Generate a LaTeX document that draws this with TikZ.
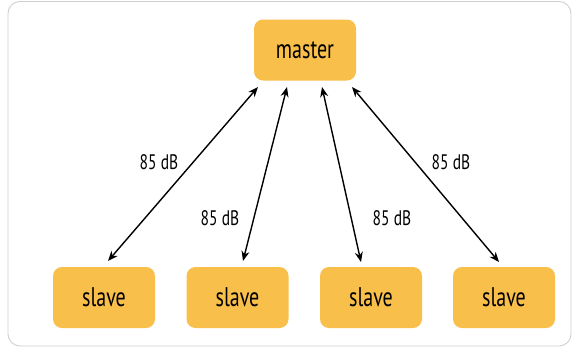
\documentclass[tikz,border=0pt]{standalone}
\usepackage{fontspec}
\setmainfont[FakeStretch=0.74]{PT Sans}
\usetikzlibrary{arrows.meta}
\definecolor{boxfill}{HTML}{F9BF4B}
\definecolor{framegray}{HTML}{CFCFCF}
\tikzset{
	unit/.style={fill=boxfill,rounded corners=9pt,minimum width=102pt,minimum height=61pt,inner sep=0pt,font=\fontsize{27}{29}\selectfont},
	link/.style={line width=1.4pt,{Stealth[length=10pt,width=8pt]}-{Stealth[length=10pt,width=8pt]}},
	level/.style={font=\fontsize{21}{23}\selectfont,inner sep=0pt}
}
\begin{document}
\begin{tikzpicture}[x=1pt,y=-1pt]
		\useasboundingbox (0,0) rectangle (572,349);
		\draw [framegray,line width=0.9pt,rounded corners=12pt] (8,1.5) rectangle (571,346);
		\node[unit] (master) at (305,50) {master};
		\node[unit] (s1) at (104,297.5) {slave};
		\node[unit] (s2) at (237.5,297.5) {slave};
		\node[unit] (s3) at (371,297.5) {slave};
		\node[unit] (s4) at (504,297.5) {slave};
		\coordinate (m1) at (258,87);
		\coordinate (m2) at (287,87);
		\coordinate (m3) at (322,87);
		\coordinate (m4) at (352,87);
		\coordinate (e1) at (108,261);
		\coordinate (e2) at (243,261);
		\coordinate (e3) at (361,262);
		\coordinate (e4) at (499,262);
		\draw [link] (m1) -- (e1);
		\draw [link] (m2) -- (e2);
		\draw [link] (m3) -- (e3);
		\draw [link] (m4) -- (e4);
		\node[level] (l1) at (159,162) {85 dB};
		\node[level] (l2) at (220,218) {85 dB};
		\node[level] (l3) at (392,218) {85 dB};
		\node[level] (l4) at (451,162) {85 dB};
	\end{tikzpicture}
\end{document}
